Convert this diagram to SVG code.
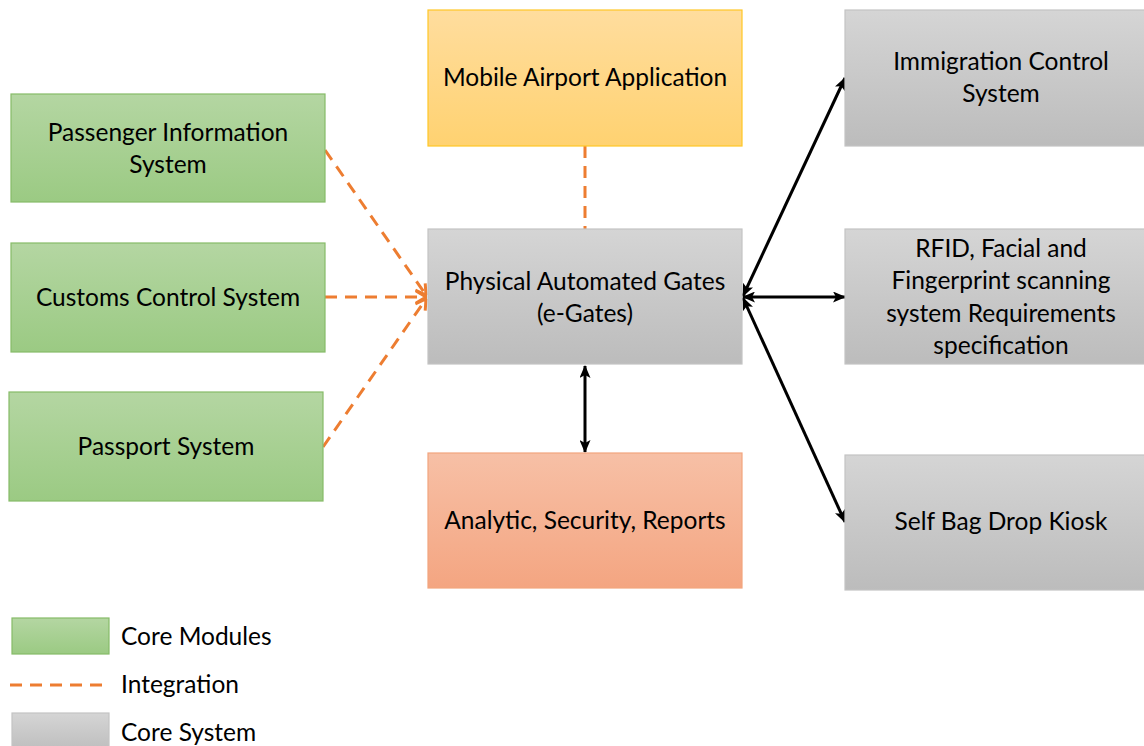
<svg xmlns="http://www.w3.org/2000/svg" width="1144" height="746" viewBox="0 0 1144 746">
<defs>
<linearGradient id="gGreen" x1="0" y1="0" x2="0" y2="1"><stop offset="0" stop-color="#b4d6a2"/><stop offset="1" stop-color="#9bca83"/></linearGradient>
<linearGradient id="gGrey" x1="0" y1="0" x2="0" y2="1"><stop offset="0" stop-color="#d5d5d5"/><stop offset="1" stop-color="#bcbcbc"/></linearGradient>
<linearGradient id="gYellow" x1="0" y1="0" x2="0" y2="1"><stop offset="0" stop-color="#ffdd9e"/><stop offset="1" stop-color="#ffd271"/></linearGradient>
<linearGradient id="gOrange" x1="0" y1="0" x2="0" y2="1"><stop offset="0" stop-color="#f7c0a6"/><stop offset="1" stop-color="#f4a581"/></linearGradient>
<marker id="oArrow" viewBox="0 0 12 14" refX="11" refY="7" markerWidth="12" markerHeight="14" markerUnits="userSpaceOnUse" orient="auto"><path d="M1,1 L11,7 L1,13" fill="none" stroke="#ed7d31" stroke-width="3"/></marker>
<marker id="bArrow" viewBox="0 0 13 11" refX="12" refY="5.5" markerWidth="13" markerHeight="11" markerUnits="userSpaceOnUse" orient="auto-start-reverse"><path d="M0,0 L13,5.5 L0,11 L3,5.5 Z" fill="#000"/></marker>
</defs>
<style>
.green{fill:url(#gGreen);stroke:#86bb68;stroke-width:1.2}
.grey{fill:url(#gGrey);stroke:#c4c4c4;stroke-width:1.2}
.yellow{fill:url(#gYellow);stroke:#ffc726;stroke-width:1.2}
.orange{fill:url(#gOrange);stroke:#f2a57e;stroke-width:1.2}
text{font-family:Lato,"Open Sans","Liberation Sans",sans-serif;font-size:24.5px;fill:#000;text-anchor:middle}
.lg{text-anchor:start}
.dash{fill:none;stroke:#ed7d31;stroke-width:3;stroke-dasharray:12 8}
.solid{fill:none;stroke:#000;stroke-width:3}
</style>
<rect width="1144" height="746" fill="#fff"/>
<g id="connectors">
<line class="dash" x1="325" y1="150" x2="426" y2="295" marker-end="url(#oArrow)"/>
<line class="dash" x1="325" y1="297" x2="426" y2="297" marker-end="url(#oArrow)"/>
<line class="dash" x1="323" y1="447" x2="426" y2="299" marker-end="url(#oArrow)"/>
<line class="dash" x1="585" y1="146" x2="585" y2="229"/>
<line class="solid" x1="585" y1="366" x2="585" y2="452" marker-start="url(#bArrow)" marker-end="url(#bArrow)"/>
<line class="solid" x1="743" y1="296" x2="845" y2="78" marker-start="url(#bArrow)" marker-end="url(#bArrow)"/>
<line class="solid" x1="743" y1="297" x2="845" y2="297" marker-start="url(#bArrow)" marker-end="url(#bArrow)"/>
<line class="solid" x1="743" y1="298" x2="845" y2="522" marker-start="url(#bArrow)" marker-end="url(#bArrow)"/>
</g>
<g id="pis"><rect class="green" x="11" y="94" width="314" height="108"/><text x="168" y="141">Passenger Information</text><text x="168" y="173">System</text></g>
<g id="customs"><rect class="green" x="11" y="243" width="314" height="109"/><text x="168" y="306">Customs Control System</text></g>
<g id="passport"><rect class="green" x="9" y="392" width="314" height="109"/><text x="166" y="455">Passport System</text></g>
<g id="mobile"><rect class="yellow" x="428" y="10" width="314" height="136"/><text x="585" y="86">Mobile Airport Application</text></g>
<g id="egates"><rect class="grey" x="428" y="229" width="314" height="135"/><text x="585" y="290">Physical Automated Gates</text><text x="585" y="322">(e-Gates)</text></g>
<g id="analytic"><rect class="orange" x="428" y="453" width="314" height="135"/><text x="585" y="529">Analytic, Security, Reports</text></g>
<g id="immigration"><rect class="grey" x="845" y="10" width="314" height="136"/><text x="1001" y="70">Immigration Control</text><text x="1001" y="102">System</text></g>
<g id="rfid"><rect class="grey" x="845" y="229" width="314" height="135"/><text x="1001" y="257">RFID, Facial and</text><text x="1001" y="289">Fingerprint scanning</text><text x="1001" y="322">system Requirements</text><text x="1001" y="354">specification</text></g>
<g id="bagdrop"><rect class="grey" x="845" y="455" width="314" height="135"/><text x="1001" y="530">Self Bag Drop Kiosk</text></g>
<g id="legend">
<rect class="green" x="12" y="618" width="97" height="36"/><text class="lg" x="121" y="645">Core Modules</text>
<line class="dash" x1="8" y1="685" x2="109" y2="685" stroke-dashoffset="-2"/><text class="lg" x="121" y="693">Integration</text>
<rect class="grey" x="12" y="713" width="97" height="40"/><text class="lg" x="121" y="741">Core System</text>
</g>
</svg>
